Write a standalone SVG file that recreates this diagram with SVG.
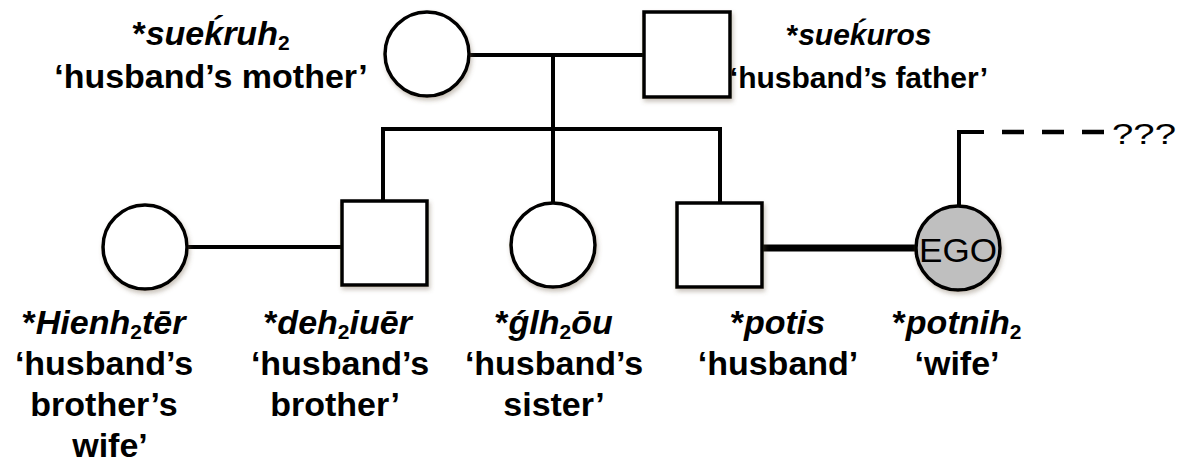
<svg xmlns="http://www.w3.org/2000/svg" width="1181" height="462" viewBox="0 0 1181 462">
<style>
.shape{fill:#fff;stroke:#000;stroke-width:3.5}
.ego{fill:#bfbfbf;stroke:#000;stroke-width:3.5}
.ln{fill:none;stroke:#000;stroke-width:4;stroke-linecap:square}
.thick{fill:none;stroke:#000;stroke-width:7}
.dash{fill:none;stroke:#000;stroke-width:4.5;stroke-dasharray:22 18}
.lbl{font-family:"Liberation Sans",Arial,sans-serif;font-weight:bold;font-size:34px;text-anchor:middle;fill:#000}
.sm{font-size:30px}
.it{font-style:italic}
.sub{font-size:21px;font-style:normal}
.plain{font-family:"Liberation Sans",Arial,sans-serif;fill:#000}
</style>
<defs>
<filter id="sh" x="-20%" y="-20%" width="140%" height="140%">
<feDropShadow dx="1.5" dy="3" stdDeviation="2" flood-color="#6b5a40" flood-opacity="0.35"/>
</filter>
</defs>
<g id="connectors">
<line class="ln" x1="469" y1="55" x2="644" y2="55"/>
<line class="ln" x1="553" y1="55" x2="553" y2="129"/>
<line class="ln" x1="383" y1="129" x2="720" y2="129"/>
<line class="ln" x1="383" y1="129" x2="383" y2="201"/>
<line class="ln" x1="553" y1="129" x2="553" y2="203"/>
<line class="ln" x1="720" y1="129" x2="720" y2="203"/>
<line class="ln" x1="187" y1="247" x2="342" y2="247"/>
<line class="thick" x1="762" y1="248" x2="916" y2="248"/>
<polyline class="ln" points="959,206 959,132 982,132"/>
<line class="dash" x1="1002" y1="132" x2="1108" y2="132"/>
</g>
<g id="mother" filter="url(#sh)">
<circle class="shape" cx="427" cy="54" r="42"/>
</g>
<g id="father" filter="url(#sh)">
<rect class="shape" x="644" y="12" width="86" height="85"/>
</g>
<g id="brothers-wife" filter="url(#sh)">
<circle class="shape" cx="145" cy="247" r="42"/>
</g>
<g id="brother" filter="url(#sh)">
<rect class="shape" x="342" y="201" width="85" height="84"/>
</g>
<g id="sister" filter="url(#sh)">
<circle class="shape" cx="553" cy="245" r="42"/>
</g>
<g id="husband" filter="url(#sh)">
<rect class="shape" x="677" y="203" width="85" height="84"/>
</g>
<g id="ego">
<circle class="ego" cx="958" cy="248" r="42" filter="url(#sh)"/>
<text class="plain" x="958" y="262" font-size="34" text-anchor="middle" textLength="78" lengthAdjust="spacingAndGlyphs">EGO</text>
</g>
<g id="labels">
<text class="lbl" x="211" y="45">*<tspan class="it">sueḱruh</tspan><tspan class="sub" dy="5">2</tspan></text>
<text class="lbl" x="211" y="88">‘husband’s mother’</text>
<text class="lbl sm" x="859" y="45">*<tspan class="it">sueḱuros</tspan></text>
<text class="lbl sm" x="859" y="88">‘husband’s father’</text>
<text class="lbl" x="104" y="334">*<tspan class="it">Hienh</tspan><tspan class="sub" dy="5">2</tspan><tspan class="it" dy="-5">tēr</tspan></text>
<text class="lbl" x="104" y="375">‘husband’s</text>
<text class="lbl" x="104" y="416">brother’s</text>
<text class="lbl" x="110" y="457">wife’</text>
<text class="lbl" x="338" y="334">*<tspan class="it">deh</tspan><tspan class="sub" dy="5">2</tspan><tspan class="it" dy="-5">iuēr</tspan></text>
<text class="lbl" x="340" y="375">‘husband’s</text>
<text class="lbl" x="335" y="416">brother’</text>
<text class="lbl" x="554" y="334">*<tspan class="it">ǵlh</tspan><tspan class="sub" dy="5">2</tspan><tspan class="it" dy="-5">ōu</tspan></text>
<text class="lbl" x="554" y="375">‘husband’s</text>
<text class="lbl" x="554" y="416">sister’</text>
<text class="lbl" x="778" y="334">*<tspan class="it">potis</tspan></text>
<text class="lbl" x="778" y="375">‘husband’</text>
<text class="lbl" x="957" y="334">*<tspan class="it">potnih</tspan><tspan class="sub" dy="5">2</tspan></text>
<text class="lbl" x="957" y="375">‘wife’</text>
<text class="plain" x="1112" y="144" font-size="29" textLength="64" lengthAdjust="spacingAndGlyphs">???</text>
</g>
</svg>
